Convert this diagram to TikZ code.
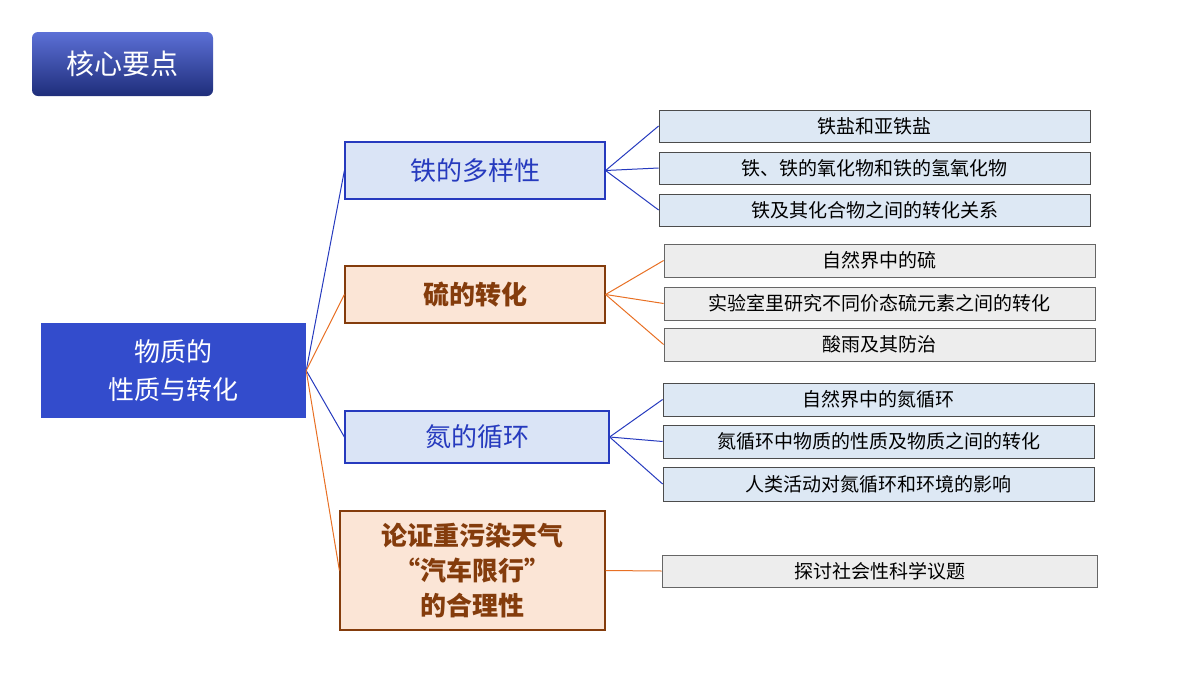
\documentclass[tikz,border=0pt]{standalone}
\usepackage{fontspec}
\setmainfont{Noto Sans CJK SC}
\usetikzlibrary{shadows}
\definecolor{deepblue}{RGB}{51,76,204}
\definecolor{lineblue}{RGB}{38,58,190}
\definecolor{lineorange}{RGB}{232,112,36}
\definecolor{paleblue}{RGB}{218,228,246}
\definecolor{peach}{RGB}{251,229,214}
\definecolor{brownish}{RGB}{132,60,12}
\definecolor{leafblue}{RGB}{221,232,244}
\definecolor{leafgray}{RGB}{237,237,237}
\tikzset{
  branchb/.style={draw=lineblue,line width=1.2pt,fill=paleblue,text=lineblue,font=\fontsize{26}{30}\selectfont,inner sep=0pt,align=center},
  brancho/.style={draw=brownish,line width=1.2pt,fill=peach,text=brownish,font=\fontsize{26}{30}\selectfont\bfseries,inner sep=0pt,align=center},
  leafb/.style={draw=black!70,line width=0.8pt,fill=leafblue,font=\fontsize{19}{22}\selectfont,minimum width=431pt,minimum height=32pt,inner sep=0pt},
  leafg/.style={draw=black!60,line width=0.8pt,fill=leafgray,font=\fontsize{19}{22}\selectfont,minimum width=431pt,minimum height=33pt,inner sep=0pt},
  linkb/.style={lineblue,line width=1pt},
  linko/.style={lineorange,line width=1pt}
}
\begin{document}
\begin{tikzpicture}[x=1pt,y=-1pt]
\useasboundingbox (0,0) rectangle (1200,675);

% title
\node[rounded corners=6pt,top color=deepblue!80!white,bottom color=deepblue!60!black,text=white,
  font=\fontsize{28}{32}\selectfont,minimum width=181pt,minimum height=64pt,inner sep=0pt] (title) at (122.5,64) {核心要点};

% root
\node[fill=deepblue,text=white,font=\fontsize{26}{38}\selectfont,minimum width=265pt,minimum height=95pt,align=center,inner sep=0pt] (root) at (173.5,370.5) {物质的\\性质与转化};

% branches
\node[branchb,minimum width=260pt,minimum height=57pt] (iron) at (475,170.5) {铁的多样性};
\node[brancho,minimum width=260pt,minimum height=57pt] (sulf) at (475,294.5) {硫的转化};
\node[branchb,minimum width=264pt,minimum height=52pt] (nitr) at (477,437) {氮的循环};
\node[brancho,minimum width=265pt,minimum height=119pt,font=\fontsize{26}{35}\selectfont\bfseries] (argu) at (472.5,570.5) {论证重污染天气\\“汽车限行”\\的合理性};

% leaves
\node[leafb] (i1) at (874.5,126) {铁盐和亚铁盐};
\node[leafb] (i2) at (874.5,168) {铁、铁的氧化物和铁的氢氧化物};
\node[leafb] (i3) at (874.5,210) {铁及其化合物之间的转化关系};
\node[leafg] (s1) at (879.5,260.5) {自然界中的硫};
\node[leafg] (s2) at (879.5,303.5) {实验室里研究不同价态硫元素之间的转化};
\node[leafg] (s3) at (879.5,344.5) {酸雨及其防治};
\node[leafb,minimum height=33pt] (n1) at (878.5,399.5) {自然界中的氮循环};
\node[leafb,minimum height=33pt] (n2) at (878.5,441.5) {氮循环中物质的性质及物质之间的转化};
\node[leafb,minimum height=34pt] (n3) at (878.5,484) {人类活动对氮循环和环境的影响};
\node[leafg,minimum width=435pt,minimum height=32pt] (a1) at (879.5,571) {探讨社会性科学议题};

% connectors
\draw[linkb] (root.east) -- (iron.west);
\draw[linko] (root.east) -- (sulf.west);
\draw[linkb] (root.east) -- (nitr.west);
\draw[linko] (root.east) -- (argu.west);
\foreach \l in {i1,i2,i3} \draw[linkb] (iron.east) -- (\l.west);
\foreach \l in {s1,s2,s3} \draw[linko] (sulf.east) -- (\l.west);
\foreach \l in {n1,n2,n3} \draw[linkb] (nitr.east) -- (\l.west);
\draw[linko] (argu.east) -- (a1.west);
\end{tikzpicture}
\end{document}
